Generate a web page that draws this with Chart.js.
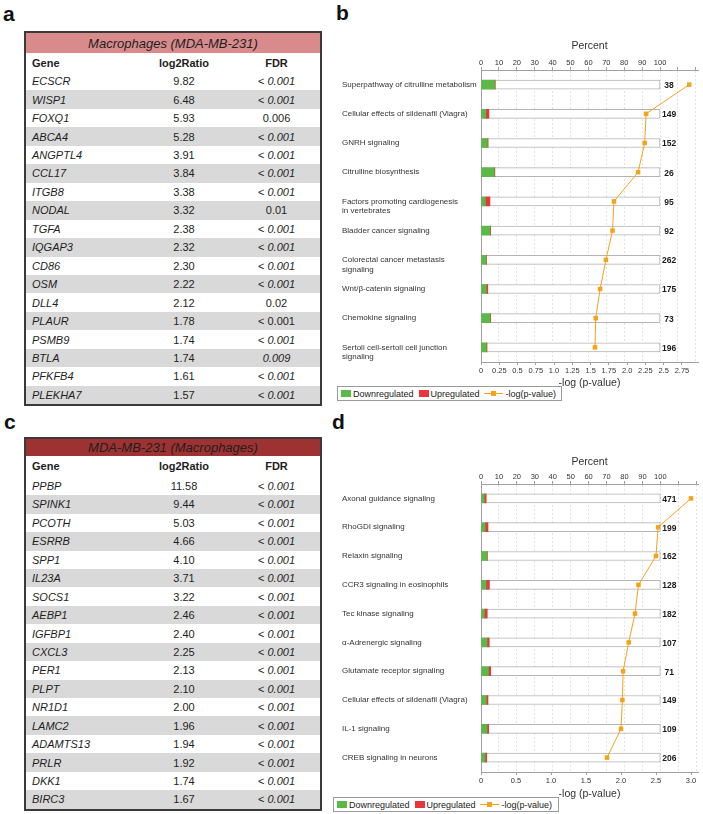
<!DOCTYPE html>
<html>
<head>
<meta charset="utf-8">
<script src="https://cdn.jsdelivr.net/npm/chart.js@4.4.1/dist/chart.umd.min.js"></script>
<style>
body{margin:0;width:703px;height:814px;position:relative;background:#fff;font-family:"Liberation Sans",Arial,sans-serif;overflow:hidden}
.lbl{position:absolute;font:bold 21px "Liberation Sans",Arial,sans-serif;line-height:1;color:#111}
.tbl{position:absolute;left:24px;width:294px;border:2px solid #3a3a3a;color:#1e1e1e;font-size:11px}
.ttl{font-style:italic;font-size:13px;display:flex;align-items:center;justify-content:center}
.row{display:flex;align-items:center}
.row.g{background:#d9d9d9}
.c1{width:109px;padding-left:6px;box-sizing:border-box;font-style:italic}
.c2{width:98px;text-align:center}
.c3{width:87px;text-align:center}
.hdr div{font-weight:bold;font-style:normal}
.cv{position:absolute}
.leg{position:absolute;border:1px solid #9a9a9a;height:15px;display:flex;align-items:center;font-size:9px;color:#222;box-sizing:border-box;padding:0 3px;background:#fff}
.sq{display:inline-block;width:10px;height:7px;margin-right:2px}
.ln{display:inline-block;position:relative;width:19px;height:7px;margin-right:3px}
.ln:before{content:"";position:absolute;left:0;right:0;top:3px;height:1px;background:#f5a31a}
.ln:after{content:"";position:absolute;left:7px;top:1px;width:5px;height:5px;background:#f5a31a}
</style>
</head>
<body>
<div class="lbl" style="left:3px;top:3px">a</div>
<div class="lbl" style="left:336px;top:2px">b</div>
<div class="lbl" style="left:4px;top:411px">c</div>
<div class="lbl" style="left:332px;top:411px">d</div>

<div id="tableA" class="tbl" style="top:31px"></div>
<div id="tableC" class="tbl" style="top:437px"></div>

<div class="cv" style="left:335px;top:30px;width:368px;height:362px"><canvas id="chartB"></canvas></div>
<div class="cv" style="left:335px;top:446px;width:368px;height:357px"><canvas id="chartD"></canvas></div>

<div id="legB" class="leg" style="left:337px;top:386px;width:225px"></div>
<div id="legD" class="leg" style="left:333px;top:797px;width:226px"></div>

<script>
// table a
var titleA = 'Macrophages (MDA-MB-231)';
var genesA = ['ECSCR','WISP1','FOXQ1','ABCA4','ANGPTL4','CCL17','ITGB8','NODAL','TGFA','IQGAP3','CD86','OSM','DLL4','PLAUR','PSMB9','BTLA','PFKFB4','PLEKHA7'];
var ratioA = ['9.82','6.48','5.93','5.28','3.91','3.84','3.38','3.32','2.38','2.32','2.30','2.22','2.12','1.78','1.74','1.74','1.61','1.57'];
var fdrA = ['< 0.001','< 0.001','0.006','< 0.001','< 0.001','< 0.001','< 0.001','0.01','< 0.001','< 0.001','< 0.001','< 0.001','0.02','< 0.001','< 0.001','0.009','< 0.001','< 0.001'];
// i = number in italics, n = plain
var fdrStyleA = ['i','i','n','i','i','i','i','n','i','i','i','i','n','n','i','i','i','i'];

// table c
var titleC = 'MDA-MB-231 (Macrophages)';
var genesC = ['PPBP','SPINK1','PCOTH','ESRRB','SPP1','IL23A','SOCS1','AEBP1','IGFBP1','CXCL3','PER1','PLPT','NR1D1','LAMC2','ADAMTS13','PRLR','DKK1','BIRC3'];
var ratioC = ['11.58','9.44','5.03','4.66','4.10','3.71','3.22','2.46','2.40','2.25','2.13','2.10','2.00','1.96','1.94','1.92','1.74','1.67'];
var fdrC = genesC.map(function(){ return '< 0.001'; });
var fdrStyleC = genesC.map(function(){ return 'i'; });

// chart b
var pathwaysB = ['Superpathway of citrulline metabolism','Cellular effects of sildenafil (Viagra)','GNRH signaling','Citrulline biosynthesis',
  ['','Factors promoting cardiogenesis','in vertebrates'],'Bladder cancer signaling',['','Colorectal cancer metastasis','signaling'],
  'Wnt/β-catenin signaling','Chemokine signaling',['','Sertoli cell-sertoli cell junction','signaling']];
var downB = [7.9, 3.0, 3.9, 7.7, 2.8, 5.4, 3.0, 3.3, 5.4, 3.3];
var upB = [0, 1.4, 0, 0, 2.2, 0, 0, 0.5, 0, 0];
var countsB = [38, 149, 152, 26, 95, 92, 262, 175, 73, 196];
var logpB = [2.85, 2.26, 2.24, 2.15, 1.82, 1.80, 1.71, 1.63, 1.57, 1.56];

// chart d
var pathwaysD = ['Axonal guidance signaling','RhoGDI signaling','Relaxin signaling','CCR3 signaling in eosinophils','Tec kinase signaling',
  'α-Adrenergic signaling','Glutamate receptor signaling','Cellular effects of sildenafil (Viagra)','IL-1 signaling','CREB signaling in neurons'];
var downD = [2.2, 2.6, 3.5, 3.2, 2.2, 3.7, 4.5, 3.3, 3.7, 2.6];
var upD = [0.7, 1.3, 0, 1.5, 1.3, 0.9, 0.9, 0.6, 0.6, 0.6];
var countsD = [471, 199, 162, 128, 182, 107, 71, 149, 109, 206];
var logpD = [3.00, 2.53, 2.50, 2.25, 2.20, 2.11, 2.03, 2.02, 2.00, 1.80];

var legendLabels = ['Downregulated', 'Upregulated', '-log(p-value)'];

var GREEN = '#5bb947', RED = '#e8373c', ORANGE = '#f5a31a';

function fdrCell(txt, st) {
  var num = txt.replace('< ', '');
  var inner = st == 'i' ? '<i>' + num + '</i>' : num;
  return (txt.indexOf('<') == 0 ? '&lt; ' : '') + inner;
}

function buildTable(id, title, titleBg, titleH, headH, rowH, genes, ratios, fdrs, styles) {
  var html = '<div class="ttl" style="height:' + titleH + 'px;background:' + titleBg + '">' + title + '</div>';
  html += '<div class="row hdr" style="height:' + headH + 'px"><div class="c1">Gene</div><div class="c2">log2Ratio</div><div class="c3">FDR</div></div>';
  for (var i = 0; i < genes.length; i++) {
    html += '<div class="row' + (i % 2 ? ' g' : '') + '" style="height:' + rowH + 'px">' +
      '<div class="c1">' + genes[i] + '</div><div class="c2">' + ratios[i] + '</div><div class="c3">' + fdrCell(fdrs[i], styles[i]) + '</div></div>';
  }
  document.getElementById(id).innerHTML = html;
}

buildTable('tableA', titleA, '#d98b8c', 20, 19, 18.46, genesA, ratioA, fdrA, fdrStyleA);
buildTable('tableC', titleC, '#9e3232', 17, 20.8, 18.44, genesC, ratioC, fdrC, fdrStyleC);

function buildLegend(id) {
  var sw = ['<i class="sq" style="background:' + GREEN + '"></i>',
            '<i class="sq" style="background:' + RED + ';margin-left:5px"></i>',
            '<i class="ln" style="margin-left:4px"></i>'];
  var html = '';
  legendLabels.forEach(function(l, i) { html += sw[i] + '<span>' + l + '</span>'; });
  document.getElementById(id).innerHTML = html;
}
buildLegend('legB');
buildLegend('legD');

// totals written to the right of each bar
var countLabels = {
  id: 'countLabels',
  afterDatasetsDraw: function(chart, args, opts) {
    var ctx = chart.ctx, x = chart.scales.x, y = chart.scales.y;
    ctx.save();
    ctx.font = 'bold 8.5px "Liberation Sans", Arial, sans-serif';
    ctx.fillStyle = '#1a1a1a';
    ctx.textAlign = 'center';
    ctx.textBaseline = 'middle';
    opts.counts.forEach(function(c, i) {
      ctx.fillText(c, x.getPixelForValue(100) + 9, y.getPixelForValue(i) + 1);
    });
    ctx.restore();
  }
};

var FONT = '"Liberation Sans", Arial, sans-serif';

function buildChart(id, o) {
  new Chart(document.getElementById(id), {
    type: 'bar',
    data: {
      labels: o.labels,
      datasets: [
        { type: 'line', label: legendLabels[2], data: o.logp, xAxisID: 'x2', borderColor: ORANGE, backgroundColor: ORANGE,
          borderWidth: 1, pointStyle: 'rect', pointRadius: 3.2, pointBorderWidth: 0, order: 0 },
        { label: legendLabels[1], data: o.up.map(function(u, i) { return [o.down[i], o.down[i] + u]; }), xAxisID: 'x',
          backgroundColor: RED, grouped: false, barThickness: 9, order: 1 },
        { label: legendLabels[0], data: o.down.map(function(d) { return [0, d]; }), xAxisID: 'x',
          backgroundColor: GREEN, grouped: false, barThickness: 9, order: 2 },
        { label: 'total', data: o.down.map(function() { return [0, 100]; }), xAxisID: 'x',
          backgroundColor: '#ffffff', borderColor: '#b4b4b4', borderWidth: 1, borderSkipped: false,
          grouped: false, barThickness: 9, order: 3 }
      ]
    },
    options: {
      indexAxis: 'y',
      responsive: true,
      maintainAspectRatio: false,
      animation: false,
      layout: { padding: { left: 7, right: 5, top: 0, bottom: 0 } },
      scales: {
        x: {
          type: 'linear', position: 'top', min: 0, max: o.pctMax,
          afterFit: function(s) { s.height = o.topH; },
          ticks: { stepSize: 10, includeBounds: false, padding: 0, color: '#333', autoSkip: false, maxRotation: 0, minRotation: 0,
                   font: { size: 7.5, family: FONT },
                   callback: function(v) { return v <= 100 ? v : ''; } },
          grid: { color: '#e2e2e2', tickLength: 3, tickColor: '#a0a0a0' },
          border: { color: '#a0a0a0', dash: [2, 2] },
          title: { display: true, text: 'Percent', color: '#333', padding: { top: 9.4, bottom: 0 },
                   font: { size: 10.5, family: FONT } }
        },
        x2: {
          type: 'linear', position: 'bottom', min: 0, max: o.logMax,
          afterFit: function(s) { s.height = o.botH; },
          ticks: { stepSize: o.logStep, includeBounds: false, padding: 1, color: '#333', autoSkip: false, maxRotation: 0, minRotation: 0,
                   font: { size: 7.5, family: FONT },
                   callback: function(v) { return v === 0 ? '0' : (Number.isInteger(v) ? v.toFixed(1) : String(v)); } },
          grid: { drawOnChartArea: false, tickLength: 3, tickColor: '#a0a0a0' },
          border: { color: '#a0a0a0' },
          title: { display: true, text: '-log (p-value)', color: '#333', padding: { top: 0, bottom: o.botPad },
                   font: { size: 10.5, family: FONT } }
        },
        y: {
          type: 'category',
          afterFit: function(s) { s.width = 139; },
          ticks: { crossAlign: 'far', color: '#333', autoSkip: false, font: { size: 8, family: FONT } },
          grid: { display: false },
          border: { display: true, color: '#a0a0a0' }
        }
      },
      plugins: {
        legend: { display: false },
        tooltip: { enabled: false },
        countLabels: { counts: o.counts }
      }
    },
    plugins: [countLabels]
  });
}

buildChart('chartB', { labels: pathwaysB, down: downB, up: upB, counts: countsB, logp: logpB,
  pctMax: 121.2, logMax: 2.97, logStep: 0.25, topH: 40, botH: 30, botPad: 3 });
buildChart('chartD', { labels: pathwaysD, down: downD, up: upD, counts: countsD, logp: logpD,
  pctMax: 121, logMax: 3.1, logStep: 0.5, topH: 38, botH: 31, botPad: 2.7 });
</script>
</body>
</html>
